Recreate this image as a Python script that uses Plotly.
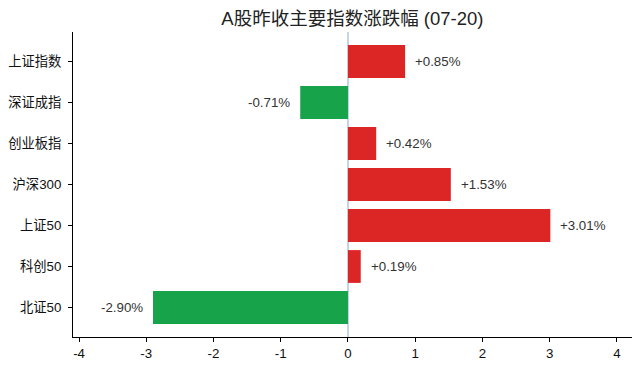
import plotly.graph_objects as go

categories = ["上证指数", "深证成指", "创业板指", "沪深300", "上证50", "科创50", "北证50"]
changes = [0.85, -0.71, 0.42, 1.53, 3.01, 0.19, -2.90]
x_ticks = [-4, -3, -2, -1, 0, 1, 2, 3, 4]

RED = "#dc2626"
GREEN = "#16a34a"
colors = [RED if v >= 0 else GREEN for v in changes]
labels = [f"{v:+.2f}%" for v in changes]

FONT = "Liberation Sans, Arial, Noto Sans CJK SC, sans-serif"

fig = go.Figure()
fig.add_trace(go.Bar(
    x=changes, y=categories, orientation="h",
    marker=dict(color=colors, line=dict(width=0)),
    width=0.8, hoverinfo="skip",
))

for c, v, t in zip(categories, changes, labels):
    fig.add_annotation(
        x=v, y=c, text=t, showarrow=False,
        xanchor="left" if v >= 0 else "right",
        xshift=8 if v >= 0 else -8,
        font=dict(size=13.3, color="#333333", family=FONT),
    )

fig.update_layout(
    width=639, height=369,
    margin=dict(l=73, r=7, t=32, b=32),
    paper_bgcolor="white", plot_bgcolor="white",
    showlegend=False,
    title=dict(text="A股昨收主要指数涨跌幅 (07-20)", x=0.5515, xanchor="center",
               y=0.95, yanchor="middle",
               font=dict(size=18.5, color="#222222", family=FONT)),
    font=dict(family=FONT, size=13, color="#111111"),
)
fig.update_xaxes(
    range=[-4.09, 4.225], tickvals=x_ticks, ticktext=[str(t) for t in x_ticks],
    showgrid=False, zeroline=True, zerolinecolor="#c3d4ea", zerolinewidth=1.5,
    showline=True, linecolor="black", linewidth=1, layer="above traces",
    ticks="outside", ticklen=4, tickcolor="black",
    tickfont=dict(size=13.3, color="#111111"),
)
fig.update_yaxes(
    type="category", categoryorder="array", categoryarray=categories,
    range=[6.72, -0.72],
    showgrid=False, zeroline=False,
    showline=True, linecolor="black", linewidth=1,
    ticks="outside", ticklen=4, tickcolor="black",
    ticklabelstandoff=4,
    tickfont=dict(size=13.3, color="#111111"),
)

fig.write_html("out.html")
